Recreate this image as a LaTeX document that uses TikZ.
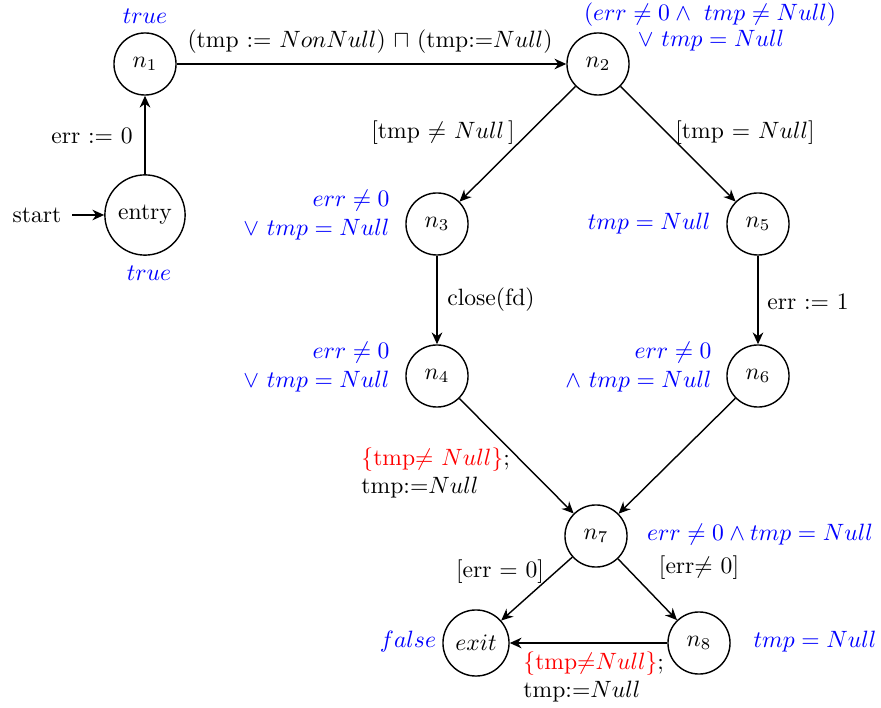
\documentclass[tikz,border=0pt]{standalone}
\usetikzlibrary{arrows.meta}
\begin{document}
\begin{tikzpicture}[x=0.4237pt,y=-0.4237pt,
  st/.style={circle,draw,semithick,minimum size=26.3pt,inner sep=0pt},
  arr/.style={semithick,-{Stealth[length=5pt,width=4.5pt,inset=1.6pt]}},
  ann/.style={text=blue,inner sep=0pt},
  lbl/.style={inner sep=0pt}]
\useasboundingbox (0,0) rectangle (881,708);
% states
\node[st] (n1) at (145,64) {$n_1$};
\node[st,minimum size=34pt] (entry) at (145,215) {entry};
\node[st] (n2) at (598,64) {$n_2$};
\node[st] (n3) at (437,224) {$n_3$};
\node[st] (n4) at (437,376) {$n_4$};
\node[st] (n5) at (758,224) {$n_5$};
\node[st] (n6) at (758,376) {$n_6$};
\node[st] (n7) at (596,536) {$n_7$};
\node[st,minimum size=28pt] (exit) at (476,643) {$exit$};
\node[st] (n8) at (699,643) {$n_8$};
\node[inner sep=0pt] (start) at (37,215) {start};
\coordinate (s0) at (72,215);
% edges
\draw[arr] (s0) -- (entry);
\draw[arr] (entry) -- (n1);
\draw[arr] (n1) -- (n2);
\draw[arr] (n2) -- (n3);
\draw[arr] (n2) -- (n5);
\draw[arr] (n3) -- (n4);
\draw[arr] (n5) -- (n6);
\draw[arr] (n4) -- (n7);
\draw[arr] (n6) -- (n7);
\draw[arr] (n7) -- (exit);
\draw[arr] (n7) -- (n8);
\draw[arr] (n8) -- (exit);
% annotations
\node[ann] (a1) at (145,16) {$true$};
\node[ann] (a0) at (149,273) {$true$};
\node[ann] (a2a) at (710,15) {$(err \neq 0 \wedge\ tmp \neq Null)$};
\node[ann] (a2b) at (711,41) {$\vee\ tmp = Null$};
\node[ann,align=right,anchor=east] (a3) at (390,215) {$err \neq 0$\\$\vee\ tmp = Null$};
\node[ann,align=right,anchor=east] (a4) at (390,367) {$err \neq 0$\\$\vee\ tmp = Null$};
\node[ann,anchor=east] (a5) at (711,224) {$tmp = Null$};
\node[ann,align=right,anchor=east] (a6) at (712,367) {$err \neq 0$\\$\wedge\ tmp = Null$};
\node[ann] (a7) at (760,535) {$err \neq 0 \wedge tmp = Null$};
\node[ann] (a8) at (408,642) {$false$};
\node[ann] (a9) at (815,642) {$tmp = Null$};
% edge labels
\node[lbl] (l1) at (92,136) {err := 0};
\node[lbl] (l2) at (370,42) {(tmp := $NonNull$) $\sqcap$ (tmp:=$Null$)};
\node[lbl] (l3) at (443,133) {[tmp $\neq$ $Null$\,]};
\node[lbl] (l4) at (745,133) {[tmp = $Null$]};
\node[lbl] (l5) at (491,300) {close(fd)};
\node[lbl] (l6) at (808,302) {err := 1};
\node[lbl,align=left,anchor=west] (l7) at (361,473) {\textcolor{red}{\{tmp$\neq$ $Null$\}};\\tmp:=$Null$};
\node[lbl] (l8) at (500,572) {[err = 0]};
\node[lbl] (l9) at (699,568) {[err$\neq$ 0]};
\node[lbl,align=left,anchor=west] (l10) at (523,677) {\textcolor{red}{\{tmp$\neq$$Null$\}};\\tmp:=$Null$};
\end{tikzpicture}
\end{document}
